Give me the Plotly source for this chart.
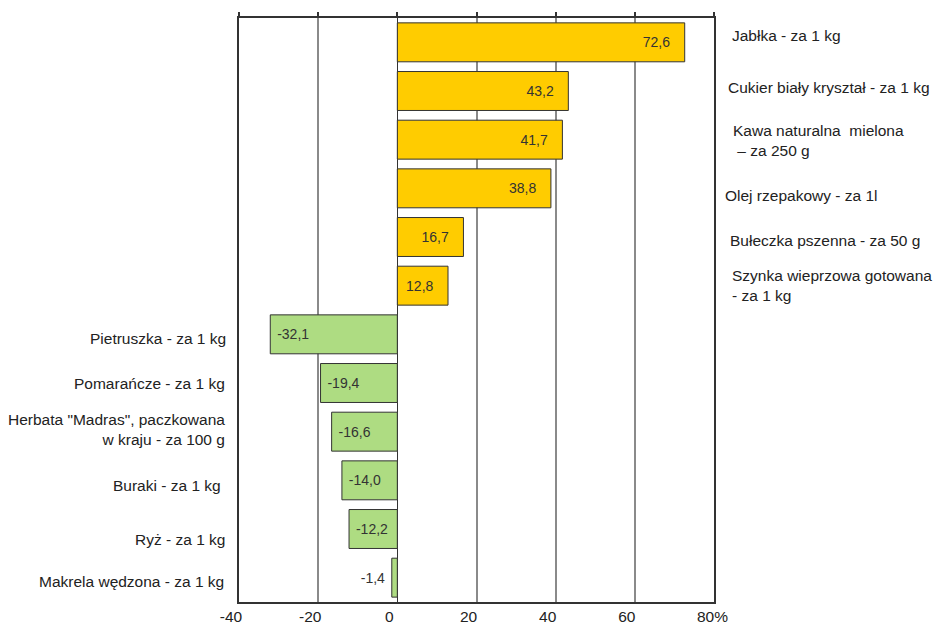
import plotly.graph_objects as go

categories = [
    "Jabłka - za 1 kg",
    "Cukier biały kryształ - za 1 kg",
    "Kawa naturalna  mielona<br>\u00a0– za 250 g",
    "Olej rzepakowy - za 1l",
    "Bułeczka pszenna - za 50 g",
    "Szynka wieprzowa gotowana<br>- za 1 kg",
    "Pietruszka - za 1 kg",
    "Pomarańcze - za 1 kg",
    "Herbata \"Madras\", paczkowana<br>w kraju - za 100 g",
    "Buraki - za 1 kg\u00a0",
    "Ryż - za 1 kg",
    "Makrela wędzona - za 1 kg",
]
values = [72.6, 43.2, 41.7, 38.8, 16.7, 12.8, -32.1, -19.4, -16.6, -14.0, -12.2, -1.4]
tick_vals = [-40, -20, 0, 20, 40, 60, 80]
tick_text = ["-40", "-20", "0", "20", "40", "60", "\u00a0\u00a0\u00a080%"]

# label vertical nudges (px) and horizontal offsets (px) - layout only
label_yshift = [7, 4, -1, -7, -3, 0, -4, 0, 2, -5, -10, -4]
label_xshift = [16, 12, 17, 9, 14, 16, -11, -12, -12, -12, -12, -13]

YELLOW = "#FFCC00"
GREEN = "#AEDC82"
FONT = "Liberation Sans, Arial, sans-serif"

ids = [f"c{i}" for i in range(len(categories))]

def fmt(v):
    s = f"{v:.1f}".replace(".", ",")
    if v >= 0:
        return s + "\u00a0\u00a0\u00a0"
    if abs(v) < 5:
        return s + "\u00a0"
    return "\u00a0" + s

colors = [YELLOW if v >= 0 else GREEN for v in values]

fig = go.Figure()
fig.add_trace(go.Bar(
    x=values,
    y=ids,
    orientation="h",
    marker=dict(color=colors, line=dict(color="#333333", width=1)),
    text=[fmt(v) for v in values],
    textposition="auto",
    insidetextanchor="end",
    textfont=dict(family=FONT, size=14, color="#333333"),
    insidetextfont=dict(family=FONT, size=14, color="#333333"),
    outsidetextfont=dict(family=FONT, size=14, color="#333333"),
    constraintext="none",
    cliponaxis=False,
    hoverinfo="skip",
    showlegend=False,
))

# invisible trace to carry the top axis tick marks
fig.add_trace(go.Scatter(x=[-40, 80], y=[ids[0], ids[0]], xaxis="x2", mode="none",
                         showlegend=False, hoverinfo="skip"))

for i, (cat, v) in enumerate(zip(categories, values)):
    if v >= 0:
        fig.add_annotation(x=1, xref="paper", y=ids[i], yref="y", text=cat,
                           xanchor="left", align="left", showarrow=False,
                           xshift=label_xshift[i], yshift=label_yshift[i],
                           font=dict(family=FONT, size=15.5, color="#222222"))
    else:
        fig.add_annotation(x=0, xref="paper", y=ids[i], yref="y", text=cat,
                           xanchor="right", align="right", showarrow=False,
                           xshift=label_xshift[i], yshift=label_yshift[i],
                           font=dict(family=FONT, size=15.5, color="#222222"))

fig.update_layout(
    width=939, height=625,
    margin=dict(l=239, r=225, t=18, b=23, autoexpand=False),
    paper_bgcolor="white", plot_bgcolor="white",
    bargap=0.2,
    font=dict(family=FONT, size=13, color="#222222"),
    xaxis=dict(
        range=[-40, 80], tickvals=tick_vals, ticktext=tick_text,
        showgrid=True, gridcolor="#8a8a8a", gridwidth=1.5,
        zeroline=True, zerolinecolor="#333333", zerolinewidth=1,
        showline=True, linecolor="#333333", linewidth=1.5, mirror=True,
        ticks="", ticklabelshift=-8,
        tickfont=dict(family=FONT, size=15.5, color="#222222"),
        fixedrange=True,
    ),
    xaxis2=dict(
        range=[-40, 80], overlaying="x", side="top", tickvals=tick_vals,
        showticklabels=False, ticks="outside", ticklen=5, tickcolor="#333333",
        tickwidth=1.5, showgrid=False, zeroline=False, showline=False,
        fixedrange=True,
    ),
    yaxis=dict(
        categoryorder="array", categoryarray=ids,
        range=[len(ids) - 0.5, -0.5], autorange=False,
        showticklabels=False, ticks="", showgrid=False,
        showline=True, linecolor="#333333", linewidth=1.5, mirror=True,
        fixedrange=True,
    ),
)

fig.write_html("out.html", config={"displayModeBar": False},
               post_script="document.body.style.margin='0';")
